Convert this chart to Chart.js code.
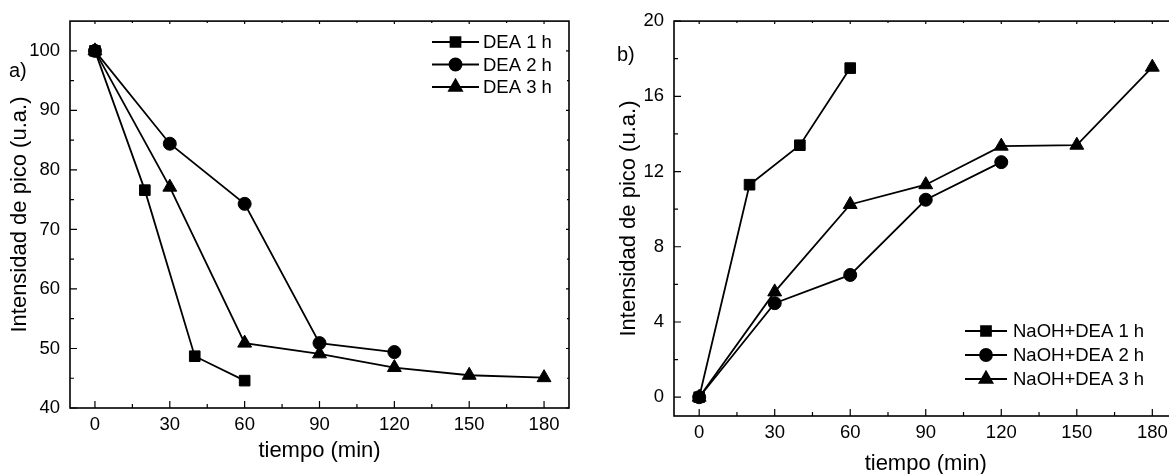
<!DOCTYPE html>
<html>
<head>
<meta charset="utf-8">
<script src="https://cdn.jsdelivr.net/npm/chart.js@4.4.1/dist/chart.umd.min.js"></script>
<style>
html, body { margin: 0; padding: 0; background: #fff; overflow: hidden; width: 1169px; height: 474px; }
#cajaA { position: absolute; left: 0; top: 0; width: 580px; height: 474px; }
#cajaB { position: absolute; left: 580px; top: 0; width: 610px; height: 490px; }
</style>
</head>
<body>
<div id="cajaA"><canvas id="graficoA" width="580" height="474"></canvas></div>
<div id="cajaB"><canvas id="graficoB" width="610" height="490"></canvas></div>
<script>
// datos
const tiempo1 = [0, 20, 40, 60];
const tiempo2 = [0, 30, 60, 90, 120];
const tiempo3 = [0, 30, 60, 90, 120, 150, 180];

const dea1 = [100, 76.6, 48.7, 44.6];
const dea2 = [100, 84.4, 74.3, 50.9, 49.4];
const dea3 = [100, 77.1, 50.9, 49.1, 46.8, 45.5, 45.1];

const naoh1 = [0, 11.3, 13.4, 17.5];
const naoh2 = [0, 5.0, 6.5, 10.5, 12.5];
const naoh3 = [0, 5.6, 10.25, 11.3, 13.35, 13.4, 17.55];

const ticksX = [0, 30, 60, 90, 120, 150, 180];
const ticksYA = [40, 50, 60, 70, 80, 90, 100];
const ticksYB = [0, 4, 8, 12, 16, 20];

const etiquetasA = ['DEA 1 h', 'DEA 2 h', 'DEA 3 h'];
const etiquetasB = ['NaOH+DEA 1 h', 'NaOH+DEA 2 h', 'NaOH+DEA 3 h'];

const estilos = ['rect', 'circle', 'triangle'];
const radios = [7.5, 6.5, 8];

Chart.defaults.font.family = "'Liberation Sans', Arial, sans-serif";
Chart.defaults.color = '#000';

function puntos(xs, ys) {
    return xs.map((x, i) => ({ x: x, y: ys[i] }));
}

function serie(label, xs, ys, i) {
    return {
        label: label,
        data: puntos(xs, ys),
        borderColor: '#000',
        backgroundColor: '#000',
        borderWidth: 1.8,
        pointStyle: estilos[i],
        pointRadius: radios[i],
        pointHoverRadius: radios[i],
        pointBackgroundColor: '#000',
        pointBorderColor: '#000',
        pointBorderWidth: 1,
        tension: 0
    };
}

// caja con marcas hacia dentro, como en Origin
const marco = {
    id: 'marco',
    beforeDatasetsDraw(chart) {
        const ctx = chart.ctx;
        const a = chart.chartArea;
        const sx = chart.scales.x, sy = chart.scales.y;
        ctx.save();
        ctx.strokeStyle = '#000';
        ctx.lineWidth = 1.6;
        ctx.strokeRect(a.left, a.top, a.right - a.left, a.bottom - a.top);
        ctx.lineWidth = 1.2;
        ctx.beginPath();
        const mx = sx.ticks.map(t => t.value);
        mx.forEach((v, i) => {
            const p = sx.getPixelForValue(v);
            ctx.moveTo(p, a.bottom); ctx.lineTo(p, a.bottom - 7);
            ctx.moveTo(p, a.top); ctx.lineTo(p, a.top + 3);
            if (i < mx.length - 1) {
                const q = sx.getPixelForValue((v + mx[i + 1]) / 2);
                ctx.moveTo(q, a.bottom); ctx.lineTo(q, a.bottom - 4);
                ctx.moveTo(q, a.top); ctx.lineTo(q, a.top + 2);
            }
        });
        const my = sy.ticks.map(t => t.value);
        const paso = my[1] - my[0];
        my.forEach(v => {
            const p = sy.getPixelForValue(v);
            ctx.moveTo(a.left, p); ctx.lineTo(a.left + 7, p);
            ctx.moveTo(a.right, p); ctx.lineTo(a.right - 3, p);
            const m = v + paso / 2;
            if (m < sy.max) {
                const q = sy.getPixelForValue(m);
                ctx.moveTo(a.left, q); ctx.lineTo(a.left + 4, q);
                ctx.moveTo(a.right, q); ctx.lineTo(a.right - 2, q);
            }
        });
        ctx.stroke();
        ctx.restore();
    },
    afterDraw(chart, args, opts) {
        const ctx = chart.ctx;
        ctx.save();
        ctx.fillStyle = '#000';
        ctx.font = "20px 'Liberation Sans', Arial, sans-serif";
        ctx.textBaseline = 'middle';
        ctx.fillText(opts.texto, opts.x, opts.y);
        ctx.restore();
    }
};

// leyenda con linea y simbolo
const leyenda = {
    id: 'leyenda',
    afterDatasetsDraw(chart, args, opts) {
        const ctx = chart.ctx;
        ctx.save();
        chart.data.datasets.forEach((ds, i) => {
            const y = opts.y0 + i * opts.dy;
            ctx.strokeStyle = '#000';
            ctx.fillStyle = '#000';
            ctx.lineWidth = 1.8;
            ctx.beginPath();
            ctx.moveTo(opts.x0, y);
            ctx.lineTo(opts.x1, y);
            ctx.stroke();
            Chart.helpers.drawPoint(ctx, {
                pointStyle: ds.pointStyle,
                radius: ds.pointRadius - 0.5,
                rotation: 0,
                borderWidth: 1
            }, (opts.x0 + opts.x1) / 2, y);
            ctx.font = "18.5px 'Liberation Sans', Arial, sans-serif";
            ctx.textBaseline = 'middle';
            ctx.fillText(ds.label, opts.xt, y + 1);
        });
        ctx.restore();
    }
};

function ejes(ticksY, minY, maxY, anchoY, altoX, padTituloY, padTituloX) {
    return {
        x: {
            type: 'linear',
            min: -10,
            max: 190,
            afterBuildTicks: s => { s.ticks = ticksX.map(v => ({ value: v })); },
            afterFit: s => { s.height = altoX; },
            grid: { display: false, drawTicks: false },
            border: { display: false },
            ticks: { font: { size: 18.5 }, padding: 6, color: '#000', maxRotation: 0 },
            title: { display: true, text: 'tiempo (min)', font: { size: 22 }, color: '#000', padding: { top: 0, bottom: padTituloX } }
        },
        y: {
            type: 'linear',
            min: minY,
            max: maxY,
            afterBuildTicks: s => { s.ticks = ticksY.map(v => ({ value: v })); },
            afterFit: s => { s.width = anchoY; },
            grid: { display: false, drawTicks: false },
            border: { display: false },
            ticks: { font: { size: 18.5 }, padding: 10, color: '#000' },
            title: { display: true, text: 'Intensidad de pico (u.a.)', font: { size: 22 }, color: '#000', padding: { top: padTituloY, bottom: 0 } }
        }
    };
}

new Chart(document.getElementById('graficoA').getContext('2d'), {
    type: 'line',
    data: {
        datasets: [
            serie(etiquetasA[0], tiempo1, dea1, 0),
            serie(etiquetasA[1], tiempo2, dea2, 1),
            serie(etiquetasA[2], tiempo3, dea3, 2)
        ]
    },
    options: {
        responsive: false,
        animation: false,
        layout: { padding: { left: 0, right: 11, top: 14, bottom: 0 } },
        scales: ejes(ticksYA, 40, 105, 70, 66, 6.8, 9.8),
        plugins: {
            legend: { display: false },
            tooltip: { enabled: false },
            marco: { texto: 'a)', x: 9, y: 71 },
            leyenda: { x0: 432, x1: 479, xt: 483, y0: 42, dy: 22.5 }
        }
    },
    plugins: [marco, leyenda]
});

new Chart(document.getElementById('graficoB').getContext('2d'), {
    type: 'line',
    data: {
        datasets: [
            serie(etiquetasB[0], tiempo1, naoh1, 0),
            serie(etiquetasB[1], tiempo2, naoh2, 1),
            serie(etiquetasB[2], tiempo3, naoh3, 2)
        ]
    },
    options: {
        responsive: false,
        animation: false,
        layout: { padding: { left: 0, right: 12.5, top: 20, bottom: 0 } },
        scales: ejes(ticksYB, -1, 20, 94, 74, 35.8, 12.8),
        plugins: {
            legend: { display: false },
            tooltip: { enabled: false },
            marco: { texto: 'b)', x: 37, y: 55 },
            leyenda: { x0: 385, x1: 427, xt: 433, y0: 331, dy: 24 }
        }
    },
    plugins: [marco, leyenda]
});
</script>
</body>
</html>
